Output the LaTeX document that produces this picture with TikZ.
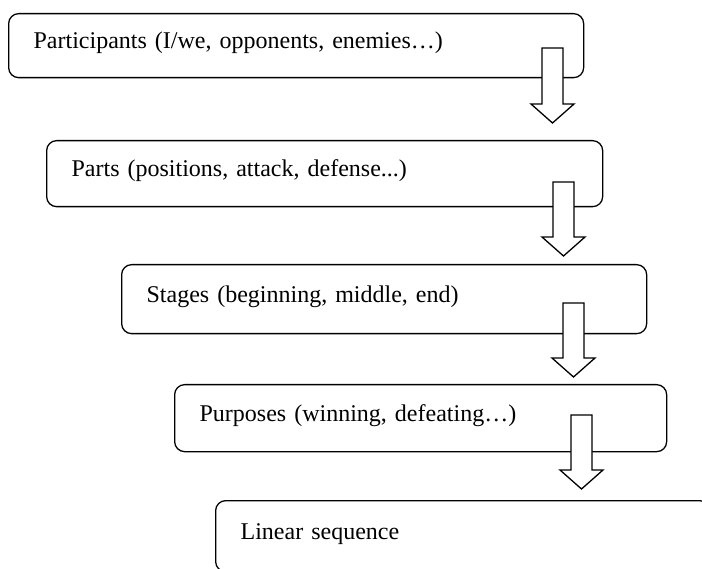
\documentclass[tikz,border=0pt]{standalone}
\usepackage{fontspec}
\setmainfont{Liberation Serif}
\tikzset{
  box/.style={
    draw=black,
    line width=1.3pt,
    rounded corners=10pt,
    anchor=north west,
    align=left,
    inner xsep=25pt,
    inner ysep=0pt,
    text height=18pt,
    text depth=12pt
  },
  blockarrow/.style={
    draw=black,
    fill=white,
    line width=1.3pt,
    line join=miter
  }
}
\newcommand{\blockarrow}[2]{
  \draw[blockarrow]
    ([xshift=-10.5pt]#1) -- ([xshift=10.5pt]#1)
    -- ([shift={(10.5pt,19pt)}]#2) -- ([shift={(21.5pt,19pt)}]#2)
    -- (#2) -- ([shift={(-21.5pt,19pt)}]#2)
    -- ([shift={(-10.5pt,19pt)}]#2) -- cycle;
}

\begin{document}
\begin{tikzpicture}[x=1pt,y=-1pt,font=\fontsize{24pt}{28pt}\selectfont]
  \useasboundingbox (0,0) rectangle (702,569);
  % the five steps, from top to bottom
  \node[box, text width=525pt, minimum height=64pt] (participants) at (8,13)
    {Participants (I/we, opponents, enemies…)};
  \node[box, text width=506pt, minimum height=66pt] (parts) at (46,140)
    {Parts (positions, attack, defense...)};
  \node[box, text width=475pt, minimum height=69pt] (stages) at (121,264)
    {Stages (beginning, middle, end)};
  \node[box, text width=442pt, minimum height=67pt] (purposes) at (174,384)
    {Purposes (winning, defeating…)};
  \node[box, text width=444pt, minimum height=71pt] (sequence) at (215,500)
    {Linear sequence};
  % hollow arrows between the steps
  \foreach \n/\x/\top/\tip in {1/552.5/48/123, 2/563.5/182/256,
                               3/573.5/303/377, 4/581.5/415/489}{
    \coordinate (start\n) at (\x,\top);
    \coordinate (tip\n) at (\x,\tip);
    \blockarrow{start\n}{tip\n}
  }
\end{tikzpicture}
\end{document}
